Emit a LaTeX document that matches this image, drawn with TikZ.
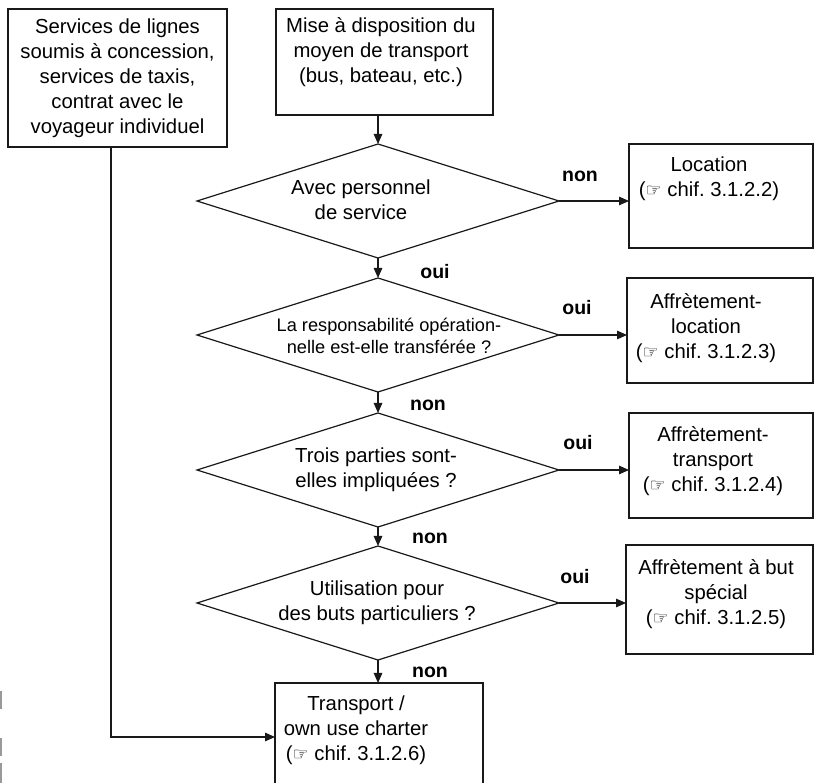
\documentclass[tikz,border=0pt]{standalone}
\usepackage{fontspec}
\setmainfont{Liberation Sans}
\newfontfamily\handfont{DejaVu Sans}
\usetikzlibrary{shapes.geometric,arrows.meta}
\newcommand{\hnd}{{\handfont\fontsize{18}{18}\selectfont ☞}}
\frenchspacing
\begin{document}
\frenchspacing
\begin{tikzpicture}[x=1pt,y=-1pt,
  ln/.style={line width=1.2pt, draw=black!90},
  box/.style={ln, rectangle, inner sep=0pt, outer sep=0pt},
  dia/.style={ln, diamond, inner sep=0pt, outer sep=0pt, minimum width=362pt, minimum height=114pt},
  txt/.style={align=center, inner sep=0pt, font=\fontsize{20.3}{25}\selectfont},
  txts/.style={align=center, inner sep=0pt, font=\fontsize{18.2}{22}\selectfont},
  lab/.style={inner sep=0pt, font=\bfseries\fontsize{19.5}{19.5}\selectfont},
  arr/.style={ln, -{Triangle[length=10pt,width=8.5pt]}},
  marginbar/.style={fill=black!40, draw=none}
]
\clip (0,0) rectangle (815,783);
\fill[white] (0,0) rectangle (815,783);

% boxes
\node[box, minimum width=219pt, minimum height=138pt] (L) at (117.5,78) {};
\node[box, minimum width=217pt, minimum height=106pt] (T) at (384.5,62) {};
\node[box, minimum width=184pt, minimum height=104pt] (Loc) at (721,196) {};
\node[box, minimum width=186pt, minimum height=105pt] (AL) at (720,330.5) {};
\node[box, minimum width=184pt, minimum height=105pt] (AT) at (721,465.5) {};
\node[box, minimum width=187pt, minimum height=109pt] (AS) at (719.5,599.5) {};
\node[box, minimum width=208pt, minimum height=108pt] (TR) at (379,737) {};

% diamonds
\node[dia] (d1) at (378,201) {};
\node[dia] (d2) at (378,335) {};
\node[dia] (d3) at (378,470) {};
\node[dia] (d4) at (378,603) {};

% texts
\node[txt] (tL) at (117.5,78) {Services de lignes\\soumis à concession,\\services de taxis,\\contrat avec le\\voyageur individuel};
\node[txt] (tT) at (381,52) {Mise à disposition du\\moyen de transport\\(bus, bateau, etc.)};
\node[txt] (tLoc) at (709,179) {Location\\(\hnd{} chif. 3.1.2.2)};
\node[txt] (tAL) at (706,328) {Affrètement-\\location\\(\hnd{} chif. 3.1.2.3)};
\node[txt] (tAT) at (713,461) {Affrètement-\\transport\\(\hnd{} chif. 3.1.2.4)};
\node[txt] (tAS) at (716,594) {Affrètement à but\\spécial\\(\hnd{} chif. 3.1.2.5)};
\node[txt] (tTR) at (356,730) {Transport /\\own use charter\\(\hnd{} chif. 3.1.2.6)};

\node[txt] (q1) at (361,200) {Avec personnel\\de service};
\node[txts] (q2) at (389,336) {La responsabilité opération-\\nelle est-elle transférée ?};
\node[txt] (q3) at (376,470) {Trois parties sont-\\elles impliquées ?};
\node[txt] (q4) at (377,603) {Utilisation pour\\des buts particuliers ?};

% labels
\node[lab] (l1) at (580,176) {non};
\node[lab] (l2) at (435,272) {oui};
\node[lab] (l3) at (577,308) {oui};
\node[lab] (l4) at (428,405) {non};
\node[lab] (l5) at (578,443) {oui};
\node[lab] (l6) at (430,538) {non};
\node[lab] (l7) at (575,577) {oui};
\node[lab] (l8) at (430,672) {non};

% connectors
\draw[arr] (T.south -| d1.north) -- (d1.north);
\draw[arr] (d1.south) -- (d2.north);
\draw[arr] (d2.south) -- (d3.north);
\draw[arr] (d3.south) -- (d4.north);
\draw[arr] (d4.south) -- (TR.north -| d4.south);
\draw[arr] (d1.east) -- (Loc.west |- d1.east);
\draw[arr] (d2.east) -- (AL.west |- d2.east);
\draw[arr] (d3.east) -- (AT.west |- d3.east);
\draw[arr] (d4.east) -- (AS.west |- d4.east);
\draw[arr] ([xshift=-6.5pt]L.south) |- (TR.west);

% margin marks
\fill[marginbar] (0,691) rectangle (2,709);
\fill[marginbar] (0,738) rectangle (2,756);
\fill[marginbar] (0,763) rectangle (2,783);
\end{tikzpicture}
\end{document}
